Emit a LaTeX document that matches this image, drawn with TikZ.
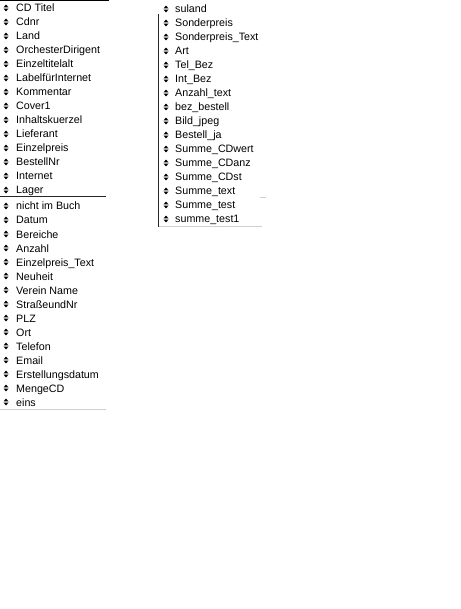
\documentclass[tikz,border=0pt]{standalone}
\usepackage{fontspec}
\setmainfont{Liberation Sans}
\definecolor{paneledge}{RGB}{212,208,200}

\tikzset{
  field/.style={anchor=base west, inner sep=0pt, font=\fontsize{10.7}{12}\selectfont},
  sorticon/.pic={
    \fill (-2.5,-0.6) -- (2.5,-0.6) -- (0,-3.4) -- cycle;
    \fill (-2.5,0.6) -- (2.5,0.6) -- (0,3.4) -- cycle;
  },
  darkrule/.style={line width=1.2pt, black!85},
  lightrule/.style={line width=1pt, paneledge}
}

\begin{document}
\begin{tikzpicture}[x=1pt, y=-1pt]
\useasboundingbox (0,0) rectangle (460,609);

% Left field list, upper part
\foreach \txt [count=\i] in {CD Titel, Cdnr, Land, OrchesterDirigent, Einzeltitelalt,
    LabelfürInternet, Kommentar, Cover1, Inhaltskuerzel, Lieferant, Einzelpreis,
    BestellNr, Internet, Lager}
{
  \node[field] (l\i) at (16, {12+14*(\i-1)}) {\txt};
  \pic[shift={(-10,-4)}] at (l\i.base west) {sorticon};
}

% Left field list, lower part
\foreach \txt [count=\i] in {nicht im Buch, Datum, Bereiche, Anzahl, Einzelpreis\_Text,
    Neuheit, Verein Name, StraßeundNr, PLZ, Ort, Telefon, Email, Erstellungsdatum,
    MengeCD, eins}
{
  \node[field] (m\i) at (16, {210+14*(\i-1)}) {\txt};
  \pic[shift={(-10,-4)}] at (m\i.base west) {sorticon};
}

% Right field list
\foreach \txt [count=\i] in {suland, Sonderpreis, Sonderpreis\_Text, Art, Tel\_Bez,
    Int\_Bez, Anzahl\_text, bez\_bestell, Bild\_jpeg, Bestell\_ja, Summe\_CDwert,
    Summe\_CDanz, Summe\_CDst, Summe\_text, Summe\_test, summe\_test1}
{
  \node[field] (r\i) at (175, {13+14*(\i-1)}) {\txt};
  \pic[shift={(-9,-4)}] at (r\i.base west) {sorticon};
}

% Rules
\draw[line width=1pt, black] (0,0.5) -- (109,0.5);
\draw[darkrule] (0,196.8) -- (106,196.8);
\draw[lightrule] (0,409.5) -- (106,409.5);
\draw[darkrule] (158.6,14) -- (158.6,227);
\draw[lightrule] (260,197.5) -- (266,197.5);
\draw[lightrule] (159,226.5) -- (262,226.5);

\end{tikzpicture}
\end{document}
